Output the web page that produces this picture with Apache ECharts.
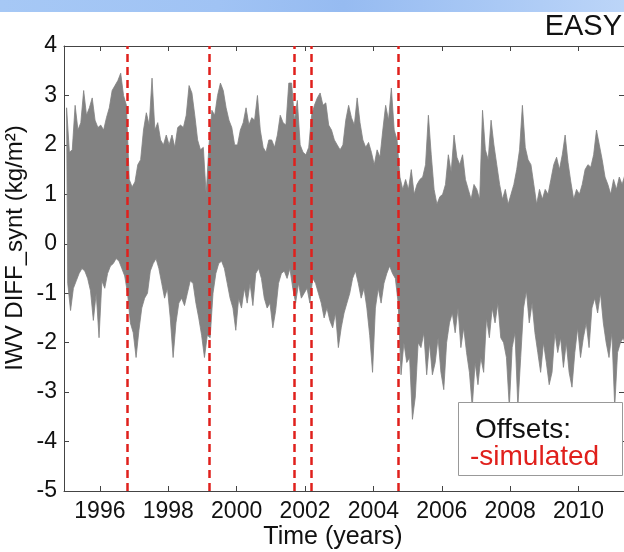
<!DOCTYPE html>
<html>
<head>
<meta charset="utf-8">
<script src="https://cdn.jsdelivr.net/npm/echarts@6/dist/echarts.min.js"></script>
<style>
html,body{margin:0;padding:0;background:#fff;}
#chart{width:624px;height:552px;}
</style>
</head>
<body>
<div id="chart"></div>
<script>
// Monthly upper extremes (Jan 1995 .. May 2011), kg/m2
const startYear = 1995;
const upperEnv = [
  2.75, 1.85, 1.9, 2.8, 2.3, 2.45, 3.1, 2.6, 2.75, 2.95, 2.5, 2.35,   // 1995
  2.4, 2.3, 2.55, 2.75, 3.1, 3.2, 3.3, 3.45, 3.0, 2.8, 1.3, 1.15,     // 1996
  1.25, 1.6, 1.7, 2.3, 2.65, 2.4, 3.35, 2.3, 2.45, 2.1, 2.0, 2.2,     // 1997
  2.0, 2.2, 1.95, 2.35, 2.4, 2.35, 2.6, 3.2, 3.05, 2.6, 2.1, 1.9,     // 1998
  1.95, 1.0, 2.0, 2.7, 2.6, 3.0, 3.25, 3.1, 2.75, 2.5, 2.35, 2.0,     // 1999
  2.0, 2.3, 2.45, 2.75, 2.4, 2.55, 2.5, 3.0, 2.3, 1.95, 1.85, 2.1,    // 2000
  2.1, 1.95, 2.2, 2.6, 2.45, 2.4, 3.25, 3.25, 2.5, 2.9, 2.0, 1.85,    // 2001
  1.8, 1.95, 2.6, 2.8, 2.95, 3.05, 2.8, 2.85, 2.4, 2.3, 2.1, 2.0,     // 2002
  1.9, 2.0, 2.5, 2.8, 2.55, 2.4, 2.95, 2.45, 2.1, 1.95, 2.05, 1.85,   // 2003
  1.6, 1.9, 1.75, 2.3, 2.8, 2.5, 3.15, 2.3, 2.1, 1.35, 1.1, 1.3,      // 2004
  1.1, 1.5, 1.0, 1.2, 1.3, 1.35, 1.6, 2.6, 1.8, 1.1, 0.8, 0.95,       // 2005
  1.0, 1.2, 1.8, 1.45, 2.2, 1.75, 1.6, 1.8, 1.3, 1.1, 0.9, 1.2,       // 2006
  1.1, 0.9, 2.7, 1.9, 1.7, 2.5, 2.0, 1.6, 1.2, 0.9, 1.1, 0.8,         // 2007
  1.0, 1.2, 1.5, 1.9, 2.8, 1.95, 1.7, 1.6, 1.2, 0.8, 1.1, 0.9,        // 2008
  1.1, 1.0, 1.3, 1.6, 1.75, 1.5, 1.8, 2.2, 1.65, 1.25, 0.9, 1.1,      // 2009
  1.0, 1.2, 1.5, 1.6, 1.55, 1.8, 2.3, 2.0, 1.7, 1.35, 1.2, 1.0,       // 2010
  1.3, 1.1, 1.35, 1.2, 1.4                                            // 2011
];
// Monthly lower extremes (Jan 1995 .. May 2011), kg/m2
const lowerEnv = [
  -0.8, -1.35, -0.9, -0.75, -0.6, -0.5, -0.55, -0.7, -0.95, -1.55, -1.0, -1.9,  // 1995
  -0.75, -0.9, -0.6, -0.45, -0.4, -0.3, -0.35, -0.5, -0.65, -1.0, -1.6, -1.8,   // 1996
  -2.3, -1.75, -1.3, -1.1, -1.0, -0.55, -0.4, -0.3, -0.5, -0.8, -1.1, -0.9,     // 1997
  -1.5, -2.3, -1.6, -1.2, -1.1, -1.25, -1.0, -0.75, -0.8, -1.2, -1.5, -1.85,    // 1998
  -2.3, -1.85, -1.9, -1.0, -0.6, -0.4, -0.35, -0.5, -0.8, -1.1, -1.3, -1.75,    // 1999
  -1.1, -1.3, -0.9, -1.2, -0.8, -1.25, -0.6, -0.5, -0.7, -1.1, -1.3, -1.2,      // 2000
  -1.7, -1.35, -0.8, -0.6, -0.55, -0.7, -0.5, -0.9, -1.2, -0.8, -1.1, -1.0,     // 2001
  -0.9, -1.2, -0.7, -0.8, -1.0, -1.2, -1.5, -1.3, -1.55, -1.7, -1.4, -2.1,      // 2002
  -1.7, -1.4, -1.2, -1.0, -0.7, -0.55, -0.8, -1.1, -0.9, -1.3, -1.85, -2.6,     // 2003
  -1.3, -0.9, -1.2, -0.8, -0.6, -0.45, -0.6, -0.7, -1.2, -2.65, -2.0, -2.4,     // 2004
  -2.3, -3.55, -3.1, -2.0, -2.1, -1.8, -2.65, -2.0, -2.65, -2.4, -1.9, -2.6,    // 2005
  -2.95, -2.0, -1.6, -1.4, -1.8, -1.3, -2.1, -1.7, -2.2, -2.6, -3.3, -2.4,      // 2006
  -2.85, -2.3, -2.6, -1.5, -1.9, -1.3, -1.6, -1.2, -1.9, -2.0, -2.3, -3.3,      // 2007
  -2.1, -1.8, -3.3, -2.3, -1.3, -0.95, -1.6, -1.2, -1.8, -2.2, -2.6, -2.0,      // 2008
  -2.4, -2.85, -2.6, -1.8, -2.2, -1.9, -2.5, -2.0, -2.6, -2.9, -2.2, -1.7,      // 2009
  -2.3, -1.9, -1.6, -2.1, -1.3, -1.1, -1.4, -1.0, -1.6, -2.0, -2.3, -1.8,       // 2010
  -3.3, -2.2, -2.0, -1.9, -2.1                                                  // 2011
];
const offsetDates = [1996.79, 1999.2, 2001.69, 2002.17, 2004.72];
const yearTicks = [1996, 1998, 2000, 2002, 2004, 2006, 2008, 2010];

// month-centred time stamps for the extremes
const upperPts = upperEnv.map((v, i) => [startYear + (i + 0.3) / 12, v]);
const lowerPts = lowerEnv.map((v, i) => [startYear + (i + 0.7) / 12, v]);

const FONT = '"Liberation Sans", Arial, sans-serif';
const chart = echarts.init(document.getElementById('chart'), null, {renderer: 'canvas'});
const xMin = 1994.95, xMax = 2011.33;
const axisCol = '#444';
const grey = '#828282';

function renderBand(params, api) {
  const pts = [];
  for (const p of upperPts) pts.push(api.coord(p));
  for (let i = lowerPts.length - 1; i >= 0; i--) pts.push(api.coord(lowerPts[i]));
  const cs = params.coordSys;
  return {
    type: 'group',
    clipPath: {type: 'rect', shape: {x: cs.x, y: cs.y, width: cs.width, height: cs.height}},
    children: [{
      type: 'polygon',
      shape: {points: pts},
      style: {fill: grey, stroke: grey, lineWidth: 0.8, lineJoin: 'miter', miterLimit: 20}
    }]
  };
}

chart.setOption({
  animation: false,
  backgroundColor: '#fff',
  grid: {left: 64, right: -2, top: 46, bottom: 61, containLabel: false},
  xAxis: [{
    type: 'value', min: xMin, max: xMax, position: 'bottom',
    axisLine: {show: true, onZero: false, lineStyle: {color: axisCol, width: 1}},
    axisTick: {show: true, inside: true, length: 5, customValues: yearTicks, lineStyle: {color: axisCol}},
    axisLabel: {show: true, customValues: yearTicks, fontSize: 23, fontFamily: FONT, color: '#111', margin: 9,
      formatter: v => String(Math.round(v))},
    splitLine: {show: false}
  }, {
    type: 'value', min: xMin, max: xMax, position: 'top',
    axisLine: {show: true, onZero: false, lineStyle: {color: axisCol, width: 1}},
    axisTick: {show: true, inside: true, length: 5, customValues: yearTicks, lineStyle: {color: axisCol}},
    axisLabel: {show: false},
    splitLine: {show: false}
  }],
  yAxis: [{
    type: 'value', min: -5, max: 4, interval: 1, position: 'left',
    axisLine: {show: true, onZero: false, lineStyle: {color: axisCol, width: 1}},
    axisTick: {show: true, inside: true, length: 5, lineStyle: {color: axisCol}},
    axisLabel: {show: true, fontSize: 23, fontFamily: FONT, color: '#111', margin: 7},
    splitLine: {show: false}
  }, {
    type: 'value', min: -5, max: 4, interval: 1, position: 'right',
    axisLine: {show: true, onZero: false, lineStyle: {color: axisCol, width: 1}},
    axisTick: {show: true, inside: true, length: 5, lineStyle: {color: axisCol}},
    axisLabel: {show: false},
    splitLine: {show: false}
  }],
  series: [{
    type: 'custom',
    xAxisIndex: 0, yAxisIndex: 0,
    data: [[startYear, 0]],
    renderItem: renderBand,
    silent: true,
    z: 2
  }, {
    type: 'line',
    data: [],
    xAxisIndex: 0, yAxisIndex: 0,
    showSymbol: false,
    z: 3,
    markLine: {
      silent: true, symbol: ['none', 'none'],
      label: {show: false},
      lineStyle: {color: '#e0201c', width: 2.5, type: [8, 5]},
      data: offsetDates.map(d => ({xAxis: d}))
    }
  }],
  graphic: [
    {type: 'rect', left: 0, top: 0, z: 10, silent: true,
      shape: {width: 624, height: 12},
      style: {fill: new echarts.graphic.LinearGradient(0, 0, 1, 0, [
        {offset: 0, color: '#a6c8f5'}, {offset: 0.35, color: '#a0c3f4'},
        {offset: 0.55, color: '#96bbf1'}, {offset: 0.8, color: '#aac9f5'},
        {offset: 1, color: '#bcd5f8'}])}},
    {type: 'text', z: 10, x: 622, y: 27, silent: true,
      style: {text: 'EASY', font: '29px ' + FONT, fill: '#111', textAlign: 'right', textVerticalAlign: 'middle'}},
    {type: 'text', z: 10, x: 15, y: 248, rotation: Math.PI / 2, silent: true,
      style: {text: 'IWV DIFF_synt (kg/m²)', font: '24px ' + FONT, fill: '#111', textAlign: 'center', textVerticalAlign: 'middle'}},
    {type: 'text', z: 10, x: 333, y: 537, silent: true,
      style: {text: 'Time (years)', font: '25px ' + FONT, fill: '#111', textAlign: 'center', textVerticalAlign: 'middle'}},
    {type: 'rect', z: 20, silent: true, shape: {x: 458.5, y: 402.5, width: 164, height: 73},
      style: {fill: '#fff', stroke: '#999', lineWidth: 1}},
    {type: 'text', z: 21, x: 475, y: 430, silent: true,
      style: {text: 'Offsets:', font: '28px ' + FONT, fill: '#111', textAlign: 'left', textVerticalAlign: 'middle'}},
    {type: 'text', z: 21, x: 470, y: 457, silent: true,
      style: {text: '-simulated', font: '28px ' + FONT, fill: '#e0201c', textAlign: 'left', textVerticalAlign: 'middle'}}
  ]
});
</script>
</body>
</html>
